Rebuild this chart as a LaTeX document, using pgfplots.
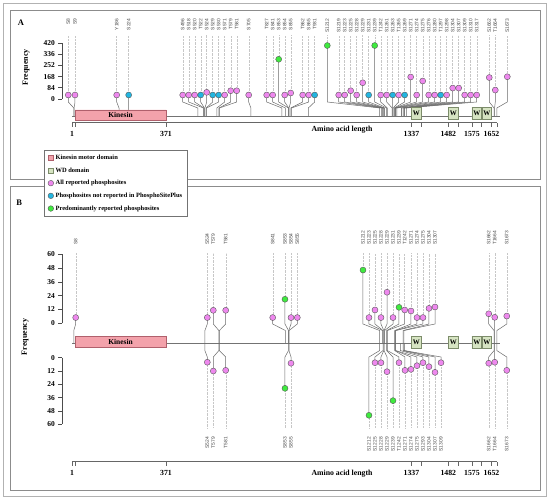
\documentclass[border=0pt]{standalone}
\usepackage{fontspec}
\setmainfont{Liberation Serif}
\setsansfont{Liberation Sans}
\usepackage{pgfplots}
\usepackage{pgfplotstable}
\pgfplotsset{compat=1.18}

\definecolor{vio}{HTML}{EE88EE}
\definecolor{cya}{HTML}{22B5E0}
\definecolor{grn}{HTML}{3FEA3F}
\definecolor{kinf}{HTML}{F3A2AB}
\definecolor{kind}{HTML}{B0606C}
\definecolor{wdf}{HTML}{D6E4C2}
\definecolor{wdd}{HTML}{7C8C6A}

% Panel A: lab = site, hx = head position (spread), f = frequency, pos = residue
\pgfplotstableread{
lab hx f pos cls
S8 -13.6 30 8 p
S9 12.8 30 9 p
Y186 176.9 30 186 p
S224 224.1 30 224 c
S496 436.7 30 496 p
S518 460.3 30 518 p
S520 483.9 30 520 p
T522 507.5 30 522 c
S524 531.1 50 524 p
S529 554.7 30 529 c
S530 578.3 30 530 c
S571 601.9 30 571 p
T579 625.6 62 579 p
T581 649.2 62 581 p
S705 696.4 30 705 p
T827 767.2 30 827 p
S841 790.9 30 841 p
S853 814.5 298 853 g
S854 838.1 30 854 p
S855 861.7 45 855 p
T862 908.9 30 862 p
S865 932.5 30 865 p
T931 956.1 30 931 c
S1212 1005.7 401 1212 g
S1219 1050.6 30 1219 p
S1223 1074.2 30 1223 p
S1225 1097.8 62 1225 p
S1228 1121.4 30 1228 p
S1229 1145.0 122 1229 p
S1231 1168.6 30 1231 c
S1239 1192.3 401 1239 g
T1242 1215.9 30 1242 p
S1261 1239.5 30 1261 p
S1263 1263.1 30 1263 c
T1265 1286.7 30 1265 p
S1269 1310.3 30 1269 c
S1271 1333.9 165 1271 p
S1274 1357.5 30 1274 p
S1275 1381.2 135 1275 p
S1276 1404.8 30 1276 p
S1280 1428.4 30 1280 p
T1297 1452.0 30 1297 c
S1298 1475.6 30 1298 p
S1304 1499.2 82 1304 p
S1307 1522.8 82 1307 p
S1309 1546.4 30 1309 p
S1310 1570.0 30 1310 p
S1317 1593.7 30 1317 p
S1662 1643.2 161 1662 p
T1664 1666.9 67 1664 p
S1673 1714.1 167 1673 p
}\tblA

% Panel B, upper track
\pgfplotstableread{
lab hx f pos cls
S8 15.6 5 8 p
S524 533.5 5 524 p
T579 557.1 11.3 579 p
T581 605.9 11.3 581 p
S841 790.9 5 841 p
S853 839.2 20.9 853 g
S854 862.9 5 854 p
S855 887.7 5 855 p
S1212 1146.2 46.3 1212 g
S1223 1169.8 5 1223 p
S1225 1193.4 11.6 1225 p
S1228 1217.0 5 1228 p
S1229 1240.7 27 1229 p
S1231 1264.3 5 1231 p
S1239 1287.9 13.9 1239 g
T1242 1310.3 11.6 1242 p
S1271 1335.1 10.7 1271 p
S1274 1358.7 5 1274 p
S1275 1382.3 5 1275 p
S1304 1405.9 13 1304 p
S1307 1429.6 14.2 1307 p
S1662 1641.1 8.3 1662 p
T1664 1664.7 5.2 1664 p
S1673 1712.0 6.3 1673 p
}\tblBt

% Panel B, lower track
\pgfplotstableread{
lab hx f pos cls
S524 533.5 4.1 524 p
T579 557.1 12 579 p
T581 605.9 11.4 581 p
S853 839.2 27.6 853 g
S855 862.9 5 855 p
S1212 1169.8 51.9 1212 g
S1225 1193.4 4.5 1225 p
S1228 1217.0 4.5 1228 p
S1229 1240.7 12.6 1229 p
S1239 1264.3 38.7 1239 g
T1242 1287.9 4.5 1242 p
S1271 1311.5 11.4 1271 p
S1274 1335.1 10.5 1274 p
S1275 1358.7 7.2 1275 p
S1293 1382.3 4.5 1293 p
S1304 1405.9 8.1 1304 p
S1307 1429.6 13.2 1307 p
S1309 1453.2 4.5 1309 p
S1662 1641.1 5 1662 p
T1664 1664.7 4.1 1664 p
S1673 1712.0 11.4 1673 p
}\tblBb

% connectors: #1 table, #2 head-y expr (uses \ff), #3 y1, #4 y2, #5 backbone y, #6 guide end y
\newcommand\drawconnectors[6]{%
  \pgfplotstablegetrowsof{#1}%
  \pgfmathtruncatemacro\nrows{\pgfplotsretval-1}%
  \pgfplotsforeachungrouped \i in {0,...,\nrows}{%
    \pgfplotstablegetelem{\i}{hx}\of{#1}\let\hx\pgfplotsretval
    \pgfplotstablegetelem{\i}{f}\of{#1}\let\ff\pgfplotsretval
    \pgfplotstablegetelem{\i}{pos}\of{#1}\let\pp\pgfplotsretval
    \pgfmathsetmacro\yy{#2}%
    \edef\tmp{\noexpand\addplot[guide] coordinates {(\hx,\yy) (\hx,#6)};
      \noexpand\addplot[conn] coordinates {(\hx,\yy) (\hx,#3) (\pp,#4) (\pp,#5)};}%
    \tmp
  }%
}

\pgfplotsset{
  guide/.style={draw=black!22, densely dotted, line width=0.4bp, mark=none},
  conn/.style={draw=black!58, line width=0.5bp, mark=none},
  heads/.style={scatter, only marks, scatter src=explicit symbolic, mark size=3bp,
    scatter/classes={p={mark=*, fill=vio, draw=black!65, line width=0.4bp},
                     c={mark=*, fill=cya, draw=black!65, line width=0.4bp},
                     g={mark=*, fill=grn, draw=black!65, line width=0.4bp}}},
  sitelab/.style={draw=none, mark=none, nodes near coords, point meta=explicit symbolic,
    every node near coord/.style={rotate=90, anchor=#1, inner sep=0pt,
      font=\sffamily\fontsize{4.9}{5}\selectfont, text=black!72}},
  mainaxis/.style={scale only axis, width=425.1bp, xmin=1, xmax=1674, clip=false,
    axis x line=bottom, axis y line=none, ytick=\empty,
    x axis line style={-, draw=black!60, line width=0.6bp},
    xtick={1,13,371,1337,1376,1482,1521,1575,1613,1652,1674},
    xticklabels={1,,371,1337,,1482,,1575,,1652,},
    tick align=outside, major tick length=4bp,
    xtick style={draw=black!60, line width=0.5bp},
    xticklabel style={font=\bfseries\fontsize{7.8}{9}\selectfont, text=black, yshift=-1.5bp},
    xlabel={Amino acid length},
    xlabel style={font=\bfseries\fontsize{7.8}{9}\selectfont, anchor=center}},
  freqaxis/.style={scale only axis, width=10bp, xmin=0, xmax=1, axis x line=none,
    axis y line=left, xtick=\empty,
    y axis line style={-, draw=black!70, line width=0.6bp},
    tick align=outside, major tick length=4bp,
    ytick style={draw=black!70, line width=0.6bp},
    yticklabel style={font=\bfseries\fontsize{7.5}{8}\selectfont},
    /pgf/number format/assume math mode=true},
  backbone/.style={draw=black!55, line width=0.6bp, mark=none},
  kinbox/.style={fill=kinf, draw=kind, line width=0.5bp, mark=none},
  wdbox/.style={fill=wdf, draw=wdd, line width=0.5bp, mark=none},
}

\begin{document}
\begin{tikzpicture}
\useasboundingbox (0,0) rectangle (550bp,500bp);
\fill[white] (0,0) rectangle (550bp,500bp);
% frames
\draw[black!30, line width=0.8bp] (3.3bp,3.3bp) rectangle (546.7bp,496.7bp);
\draw[black!45, line width=0.8bp] (10bp,320.7bp) rectangle (540.7bp,490bp);
\draw[black!45, line width=0.8bp] (10bp,9.3bp) rectangle (540.7bp,314bp);
\node[font=\bfseries\fontsize{8.5}{9}\selectfont] at (21bp,477.5bp) {A};
\node[font=\bfseries\fontsize{8.5}{9}\selectfont] at (19.2bp,297.5bp) {B};
\node[rotate=90, font=\bfseries\fontsize{8}{9}\selectfont] at (26bp,432.5bp) {Frequency};
\node[rotate=90, font=\bfseries\fontsize{8}{9}\selectfont] at (25bp,163bp) {Frequency};

% ---------- Panel A ----------
\begin{axis}[freqaxis, at={(62.3bp,401bp)}, anchor=south west, height=56bp,
  ymin=0, ymax=420, ytick={0,84,168,252,336,420}]
\end{axis}

\begin{axis}[mainaxis, at={(72bp,377.3bp)}, anchor=south west, height=104.7bp,
  ymin=-177.75, ymax=607.5,
  xlabel style={at={(axis description cs:0.6351,-0.0697)}}]
\addplot[backbone] coordinates {(1,-126.75) (1685,-126.75)};
\drawconnectors{\tblA}{\ff}{-22.5}{-67.5}{-126.75}{480}
\addplot[kinbox] coordinates {(13,-82.5) (371,-82.5) (371,-157.5) (13,-157.5) (13,-82.5)};
\addplot[wdbox] coordinates {(1337,-63.75) (1376,-63.75) (1376,-155.25) (1337,-155.25) (1337,-63.75)};
\addplot[wdbox] coordinates {(1482,-63.75) (1521,-63.75) (1521,-155.25) (1482,-155.25) (1482,-63.75)};
\addplot[wdbox] coordinates {(1575,-63.75) (1613,-63.75) (1613,-155.25) (1575,-155.25) (1575,-63.75)};
\addplot[wdbox] coordinates {(1615,-63.75) (1652,-63.75) (1652,-155.25) (1615,-155.25) (1615,-63.75)};
\node[font=\bfseries\fontsize{7.5}{8}\selectfont] at (axis cs:192,-120) {Kinesin};
\node[font=\bfseries\fontsize{7}{8}\selectfont] at (axis cs:1356.5,-109.5) {W};
\node[font=\bfseries\fontsize{7}{8}\selectfont] at (axis cs:1501.5,-109.5) {W};
\node[font=\bfseries\fontsize{7}{8}\selectfont] at (axis cs:1594,-109.5) {W};
\node[font=\bfseries\fontsize{7}{8}\selectfont] at (axis cs:1633.5,-109.5) {W};
\addplot[heads] table[x=hx, y=f, meta=cls] {\tblA};
\addplot[sitelab=east] table[x=hx, y expr=603.75, meta=lab] {\tblA};
\end{axis}

% ---------- Panel B ----------
\begin{axis}[freqaxis, at={(62.3bp,176.7bp)}, anchor=south west, height=69bp,
  ymin=0, ymax=60, ytick={0,12,24,36,48,60}]
\end{axis}
\begin{axis}[freqaxis, at={(62.3bp,142.3bp)}, anchor=north west, height=66.6bp,
  ymin=0, ymax=60, y dir=reverse, ytick={0,12,24,36,48,60}]
\end{axis}

\begin{axis}[mainaxis, at={(72bp,38.3bp)}, anchor=south west, height=216.7bp,
  ymin=-120.35, ymax=68.1,
  xlabel style={at={(axis description cs:0.6351,-0.0554)}},
  legend style={at={(rel axis cs:-0.0652,1.4384)}, anchor=north west,
    draw=black!55, line width=0.5bp, fill=white,
    font=\bfseries\fontsize{6.5}{7}\selectfont,
    inner xsep=3.5bp, inner ysep=2.6bp, row sep=2.7bp},
  legend cell align=left,
  legend image code/.code={\draw[#1] plot coordinates {(0bp,0bp)};}]
\addlegendimage{only marks, mark=square*, mark size=2.5bp, mark options={fill=kinf, draw=kind, line width=0.4bp}}
\addlegendentry{Kinesin motor domain}
\addlegendimage{only marks, mark=square*, mark size=2.5bp, mark options={fill=wdf, draw=wdd, line width=0.4bp}}
\addlegendentry{WD domain}
\addlegendimage{only marks, mark=*, mark size=2.8bp, mark options={fill=vio, draw=black!65, line width=0.4bp}}
\addlegendentry{All reported phosphosites}
\addlegendimage{only marks, mark=*, mark size=2.8bp, mark options={fill=cya, draw=black!65, line width=0.4bp}}
\addlegendentry{Phosphosites not reported in PhosphoSitePlus}
\addlegendimage{only marks, mark=*, mark size=2.8bp, mark options={fill=grn, draw=black!65, line width=0.4bp}}
\addlegendentry{Predominantly reported phosphosites}

\addplot[backbone] coordinates {(1,-17.13) (1685,-17.13)};
\drawconnectors{\tblBt}{\ff}{-0.6}{-6.3}{-17.13}{61.1}
\drawconnectors{\tblBb}{-29.91-0.9652*\ff}{-29.3}{-23.7}{-17.13}{-91}
\addplot[kinbox] coordinates {(13,-11.65) (371,-11.65) (371,-20.87) (13,-20.87) (13,-11.65)};
\addplot[wdbox] coordinates {(1337,-11.04) (1376,-11.04) (1376,-21.74) (1337,-21.74) (1337,-11.04)};
\addplot[wdbox] coordinates {(1482,-11.04) (1521,-11.04) (1521,-21.74) (1482,-21.74) (1482,-11.04)};
\addplot[wdbox] coordinates {(1575,-11.04) (1613,-11.04) (1613,-21.74) (1575,-21.74) (1575,-11.04)};
\addplot[wdbox] coordinates {(1615,-11.04) (1652,-11.04) (1652,-21.74) (1615,-21.74) (1615,-11.04)};
\node[font=\bfseries\fontsize{7.5}{8}\selectfont] at (axis cs:192,-16.3) {Kinesin};
\node[font=\bfseries\fontsize{7}{8}\selectfont] at (axis cs:1356.5,-16.4) {W};
\node[font=\bfseries\fontsize{7}{8}\selectfont] at (axis cs:1501.5,-16.4) {W};
\node[font=\bfseries\fontsize{7}{8}\selectfont] at (axis cs:1594,-16.4) {W};
\node[font=\bfseries\fontsize{7}{8}\selectfont] at (axis cs:1633.5,-16.4) {W};
\addplot[heads] table[x=hx, y=f, meta=cls] {\tblBt};
\addplot[heads] table[x=hx, y expr=-29.91-0.9652*\thisrow{f}, meta=cls] {\tblBb};
\addplot[sitelab=west] table[x=hx, y expr=68.1, meta=lab] {\tblBt};
\addplot[sitelab=east] table[x=hx, y expr=-98.9, meta=lab] {\tblBb};
\end{axis}
\end{tikzpicture}
\end{document}
